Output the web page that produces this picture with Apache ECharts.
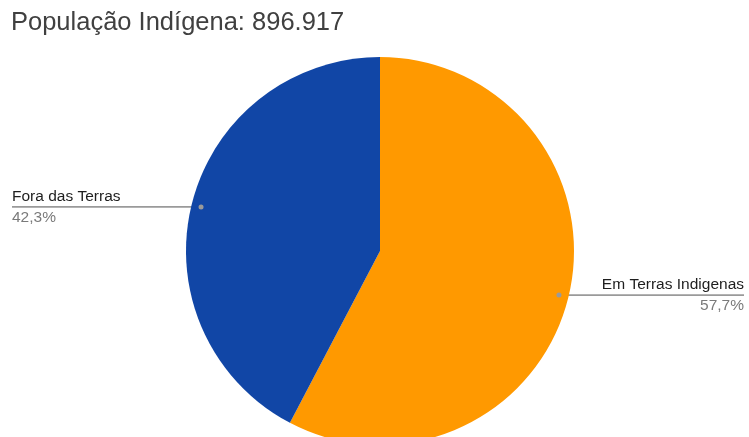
<!DOCTYPE html>
<html>
<head>
<meta charset="utf-8">
<script src="https://cdn.jsdelivr.net/npm/echarts@6/dist/echarts.min.js"></script>
<style>
  html, body { margin: 0; padding: 0; background: #ffffff; }
  #chart { width: 749px; height: 437px; }
</style>
</head>
<body>
<div id="chart"></div>
<script>
// ---- data ----
const titlePrefix = 'População Indígena: ';
const categories = ['Em Terras Indigenas', 'Fora das Terras'];
const values = [517383, 379534];
const colors = ['#FF9900', '#1146A6'];

// ---- layout ----
const CX = 380, CY = 251, R = 194;
const DOT_RATIO = 0.95;
const LABEL_LEFT = 12, LABEL_RIGHT = 744;
const FONT = '"Liberation Sans", Arial, sans-serif';

const total = values.reduce((a, b) => a + b, 0);
const fmtTotal = String(total).replace(/\B(?=(\d{3})+(?!\d))/g, '.');

function dotPoint(i) {
  let cum = 0;
  for (let k = 0; k < i; k++) cum += values[k];
  const f = (cum + values[i] / 2) / total;
  const th = f * Math.PI * 2;
  return [CX + R * DOT_RATIO * Math.sin(th), CY - R * DOT_RATIO * Math.cos(th)];
}

const chart = echarts.init(document.getElementById('chart'), null, { renderer: 'canvas' });

const dots = values.map((v, i) => {
  const p = dotPoint(i);
  return { type: 'circle', shape: { cx: p[0], cy: p[1], r: 2.5 }, style: { fill: '#9a9a9a' }, z: 100 };
});

chart.setOption({
  animation: false,
  backgroundColor: '#ffffff',
  title: {
    text: titlePrefix + fmtTotal,
    left: 11, top: 10, padding: 0,
    textStyle: { fontFamily: FONT, fontSize: 25.5, fontWeight: 'normal', color: '#404040' }
  },
  graphic: dots,
  series: [{
    type: 'pie',
    center: [CX, CY],
    radius: R,
    startAngle: 90,
    clockwise: true,
    avoidLabelOverlap: false,
    data: categories.map((c, i) => ({ name: c, value: values[i], itemStyle: { color: colors[i] } })),
    label: {
      show: true,
      position: 'outside',
      formatter: function (p) {
        return '{n|' + p.name + '}\n{p|' + p.percent.toFixed(1).replace('.', ',') + '%}';
      },
      rich: {
        n: { fontFamily: FONT, fontSize: 15.5, color: '#1e1e1e', lineHeight: 21 },
        p: { fontFamily: FONT, fontSize: 15.5, color: '#7a7a7a', lineHeight: 21 }
      }
    },
    labelLine: {
      show: true,
      length: 10,
      length2: 10,
      lineStyle: { color: '#9a9a9a', width: 1.8 }
    },
    labelLayout: function (p) {
      const pt = dotPoint(p.dataIndex);
      const isLeft = pt[0] < CX;
      const endX = isLeft ? LABEL_LEFT : LABEL_RIGHT;
      return {
        x: endX,
        y: pt[1],
        align: isLeft ? 'left' : 'right',
        verticalAlign: 'middle',
        labelLinePoints: [pt, [(pt[0] + endX) / 2, pt[1]], [endX, pt[1]]]
      };
    },
    emphasis: { disabled: true }
  }]
});
</script>
</body>
</html>
